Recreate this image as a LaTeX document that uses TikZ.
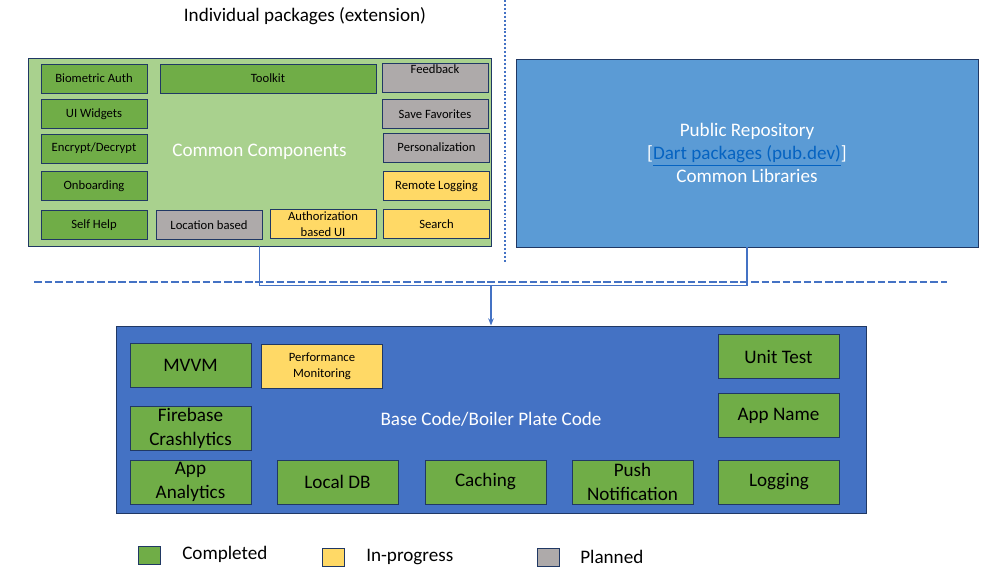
\documentclass[tikz,border=0pt]{standalone}
\usepackage{fontspec}
\setmainfont{Carlito}
\usetikzlibrary{
    arrows.meta,
    positioning,
    calc
}
\definecolor{navy}{RGB}{32,56,100}
\definecolor{okGreen}{RGB}{112,173,71}
\definecolor{wipYellow}{RGB}{255,217,102}
\definecolor{planGray}{RGB}{174,170,170}
\definecolor{lightGreen}{RGB}{169,209,142}
\definecolor{pubBlue}{RGB}{91,155,213}
\definecolor{baseBlue}{RGB}{68,114,196}
\definecolor{linkBlue}{RGB}{5,99,193}
\newcommand{\smallfnt}{\fontsize{9}{11.4}\selectfont}
\newcommand{\bigfnt}{\fontsize{13.6}{16.6}\selectfont}
\tikzset{
  cont/.style    = {draw=navy, line width=0.7pt, text=white, align=center,
                    font=\bigfnt},
  sbox/.style    = {draw=navy, line width=0.7pt, minimum width=26.5mm,
                    minimum height=7.25mm, inner sep=1pt, align=center, font=\smallfnt},
  bbox/.style    = {draw=navy, line width=0.7pt, minimum width=30.25mm,
                    minimum height=11mm, inner sep=1pt, align=center, font=\bigfnt},
  legbox/.style  = {draw=navy, line width=0.7pt, minimum width=5.5mm,
                    minimum height=4.5mm, inner sep=0pt},
  legtext/.style = {anchor=west, inner sep=0pt, font=\bigfnt},
  arr/.style     = {-{Stealth[length=1.8mm,width=1.4mm]}, line width=1pt, baseBlue},
  conn/.style    = {line width=1pt, baseBlue}
}

\begin{document}
\begin{tikzpicture}[x=0.25mm, y=-0.25mm]
  \useasboundingbox (0,0) rectangle (1006,569);

  % Title and dividers
  \node[font=\bigfnt] (title) at (305,16) {Individual packages (extension)};
  \draw[baseBlue, line width=1pt, dash pattern=on 1.4pt off 1.4pt] (505,0) -- (505,262);
  \draw[baseBlue, line width=1.4pt, dash pattern=on 5.5pt off 2pt] (34,282) -- (947,282);

  % Containers
  \node[cont, fill=lightGreen, minimum width=115.75mm, minimum height=47mm]
    (cc) at (259.5,152) {Common Components};
  \node[cont, fill=pubBlue, minimum width=115.5mm, minimum height=47mm]
    (pub) at (747,153) {Public Repository\\
      {[}\textcolor{linkBlue}{\underline{Dart packages (pub.dev)}}{]}\\
      Common Libraries};
  \node[cont, fill=baseBlue, minimum width=187.5mm, minimum height=46.75mm]
    (base) at (491,419.5) {Base Code/Boiler Plate Code};

  % Individual packages
  \node[sbox, fill=okGreen] (bio) at (94,78.5) {Biometric Auth};
  \node[sbox, fill=okGreen] (widgets) at (94,114) {UI Widgets};
  \node[sbox, fill=okGreen] (crypt) at (94,148.5) {Encrypt/Decrypt};
  \node[sbox, fill=okGreen] (onboard) at (94,186) {Onboarding};
  \node[sbox, fill=okGreen] (selfhelp) at (94,225) {Self Help};
  \node[sbox, fill=okGreen, minimum width=54mm] (toolkit) at (268,78.5) {Toolkit};
  \node[sbox, fill=planGray, text height=2mm, text depth=4.2mm, inner ysep=0pt]
    (feedback) at (435,77.5) {Feedback};
  \node[sbox, fill=planGray] (savefav) at (435,114) {Save Favorites};
  \node[sbox, fill=planGray] (perso) at (436.5,147.5) {Personalization};
  \node[sbox, fill=wipYellow] (remlog) at (436.5,186) {Remote Logging};
  \node[sbox, fill=wipYellow] (search) at (436.5,224) {Search};
  \node[sbox, fill=planGray] (location) at (209,225) {Location based};
  \node[sbox, fill=wipYellow] (authui) at (323,224) {Authorization\\based UI};

  % Base code parts
  \node[bbox, fill=okGreen] (mvvm) at (190.5,365.5) {MVVM};
  \node[bbox, fill=wipYellow, font=\smallfnt] (perf) at (322,366) {Performance\\Monitoring};
  \node[bbox, fill=okGreen] (unittest) at (778.5,356.5) {Unit Test};
  \node[bbox, fill=okGreen] (appname) at (778.5,415.5) {App Name};
  \node[bbox, fill=okGreen] (firebase) at (190.5,428.5) {Firebase\\Crashlytics};
  \node[bbox, fill=okGreen] (analytics) at (190.5,482) {App\\Analytics};
  \node[bbox, fill=okGreen] (localdb) at (337.5,482) {Local DB};
  \node[bbox, fill=okGreen] (caching) at (485.5,482) {Caching};
  \node[bbox, fill=okGreen] (push) at (632.5,482) {Push\\Notification};
  \node[bbox, fill=okGreen] (logging) at (779,482) {Logging};

  % Connectors
  \path (base.north) ++(0,-40) coordinate (join);
  \draw[conn] (cc.south) |- (join) -| (pub.south);
  \draw[arr] (join) -- (base.north);

  % Legend
  \node[legbox, fill=okGreen] (done) at (149,555) {};
  \node[legtext] (donetext) at (182,554) {Completed};
  \node[legbox, fill=wipYellow] (wip) at (333.5,557.5) {};
  \node[legtext] (wiptext) at (366,557) {In-progress};
  \node[legbox, fill=planGray] (plan) at (548,557) {};
  \node[legtext] (plantext) at (580,557) {Planned};
\end{tikzpicture}
\end{document}
